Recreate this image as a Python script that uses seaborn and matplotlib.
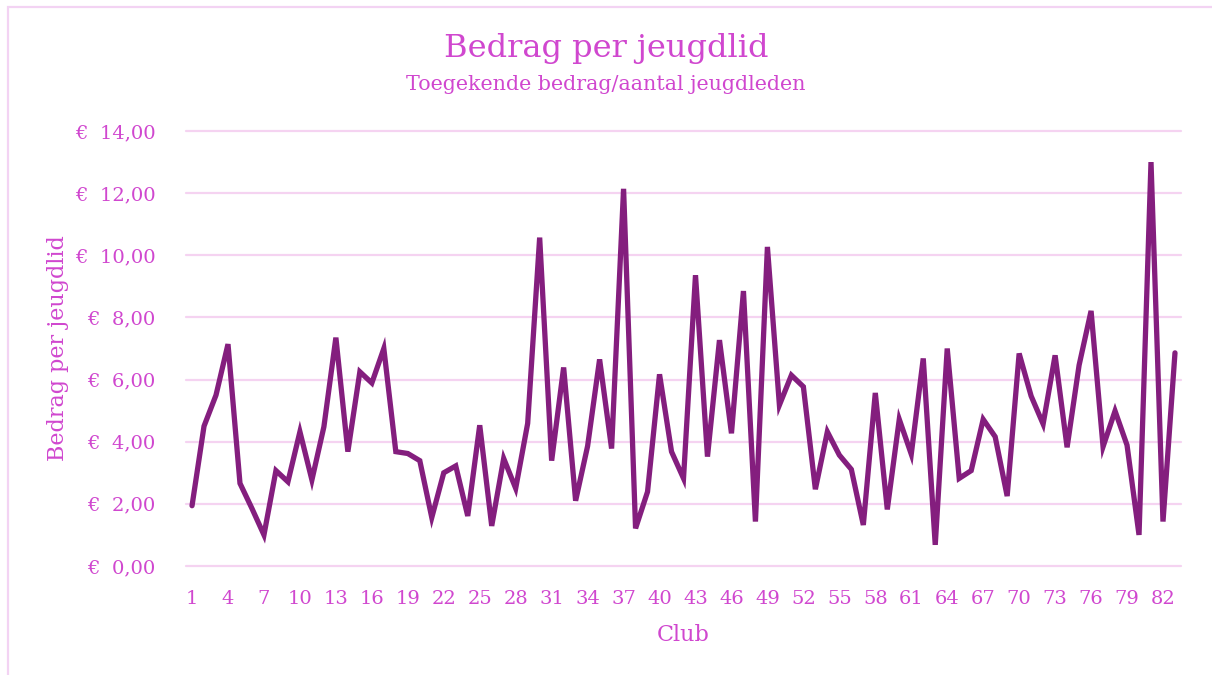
import numpy as np
import pandas as pd
import matplotlib.pyplot as plt
import seaborn as sns
from matplotlib.patches import Rectangle
from matplotlib.ticker import FuncFormatter

# bedrag per jeugdlid per club
clubs = list(range(1, 84))
bedrag = [1.94, 4.50, 5.50, 7.14, 2.66, 1.85, 1.00, 3.07, 2.71, 4.32,
          2.77, 4.48, 7.35, 3.68, 6.25, 5.89, 7.00, 3.68, 3.62, 3.39,
          1.56, 3.00, 3.22, 1.61, 4.53, 1.29, 3.46, 2.50, 4.59, 10.57,
          3.39, 6.39, 2.10, 3.86, 6.65, 3.78, 12.14, 1.21, 2.39, 6.17,
          3.68, 2.82, 9.36, 3.52, 7.27, 4.27, 8.85, 1.43, 10.27, 5.18,
          6.14, 5.77, 2.47, 4.32, 3.57, 3.11, 1.32, 5.57, 1.82, 4.72,
          3.60, 6.68, 0.68, 7.00, 2.82, 3.07, 4.72, 4.16, 2.25, 6.84,
          5.47, 4.57, 6.78, 3.82, 6.46, 8.21, 3.84, 4.99, 3.89, 1.00,
          13.00, 1.43, 6.86]
y_ticks = [0, 2, 4, 6, 8, 10, 12, 14]
x_ticks = list(range(1, 84, 3))

df = pd.DataFrame({'club': clubs, 'bedrag': bedrag})

sns.set_style('white')
plt.rcParams['font.family'] = ['DejaVu Serif']

txt_kleur = '#D047CF'
lijn_kleur = '#841E7E'
grid_kleur = '#F5D3F1'

fig = plt.figure(figsize=(12.12, 6.75), dpi=100)
ax = fig.add_axes([0.1535, 0.1615, 0.8209, 0.6444])

sns.lineplot(x='club', y='bedrag', data=df, ax=ax, color=lijn_kleur,
             linewidth=3.8, solid_joinstyle='miter')

ax.set_xlim(0.5, 83.5)
ax.set_ylim(0, 14)
ax.set_yticks(y_ticks)
ax.set_xticks(x_ticks)
ax.yaxis.set_major_formatter(FuncFormatter(lambda v, p: '€  ' + ('%.2f' % v).replace('.', ',')))
ax.grid(axis='y', color=grid_kleur, linewidth=1.6)
for gl in ax.get_ygridlines():
    gl.set_clip_on(False)
ax.set_axisbelow(True)
for s in ax.spines.values():
    s.set_visible(False)
ax.tick_params(axis='both', length=0, labelsize=14, labelcolor=txt_kleur)
ax.tick_params(axis='y', pad=22)
ax.tick_params(axis='x', pad=17)

ax.set_xlabel('Club', fontsize=16, color=txt_kleur, labelpad=12)
ax.set_ylabel('Bedrag per jeugdlid', fontsize=16, color=txt_kleur, labelpad=4)

fig.text(0.5, 0.928, 'Bedrag per jeugdlid', ha='center', va='center',
         fontsize=23, color=txt_kleur)
fig.text(0.5, 0.875, 'Toegekende bedrag/aantal jeugdleden', ha='center', va='center',
         fontsize=14.9, color=txt_kleur)

# kader rond de grafiek
fig.patches.append(Rectangle((0.0062, -0.05), 1.2, 1.0389,
                             transform=fig.transFigure, fill=False,
                             edgecolor='#F3D3F3', linewidth=1.6))

fig.savefig('out.png', dpi=100)
